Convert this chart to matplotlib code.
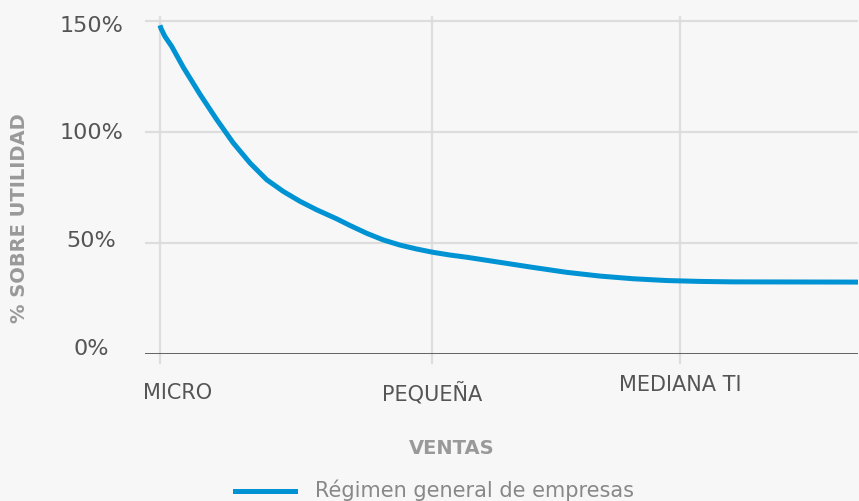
import matplotlib
matplotlib.use("Agg")
import matplotlib.pyplot as plt
import matplotlib.transforms as mtransforms

# data (x: 0 = MICRO, 1 = PEQUEÑA)
x_vals = [0.0, 0.004, 0.018, 0.043, 0.086, 0.147, 0.208, 0.269, 0.331, 0.392,
          0.453, 0.515, 0.576, 0.650, 0.699, 0.760, 0.821, 0.882, 0.944, 1.005,
          1.066, 1.128, 1.25, 1.372, 1.495, 1.618, 1.740, 1.863, 1.985, 2.108,
          2.569]
y_vals = [148, 146.5, 143.0, 138.5, 129.0, 116.9, 105.6, 95.0, 85.9, 78.4,
          73.1, 68.6, 64.8, 60.7, 57.7, 54.2, 51.2, 48.9, 47.1, 45.6,
          44.4, 43.4, 41.1, 38.8, 36.6, 34.9, 33.7, 32.9, 32.5, 32.3,
          32.2]
cat_pos = [0.0, 1.0, 1.912]
cat_labels = ["MICRO", "PEQUEÑA", "MEDIANA TI"]
y_ticks = [0, 50, 100, 150]
y_labels = ["0%", "50%", "100%", "150%"]
serie = "Régimen general de empresas"

plt.rcParams['font.family'] = ['DejaVu Sans']
bg = "#f7f7f7"
blue = "#0093d3"

fig = plt.figure(figsize=(8.59, 5.01), dpi=100, facecolor=bg)
W, H = 859, 501
ax = fig.add_axes([145 / W, 1 - 353.5 / H, (858 - 145) / W, (353.5 - 16.4) / H])
ax.set_facecolor(bg)

ax.plot(x_vals, y_vals, color=blue, lw=3.6, solid_capstyle="butt",
        solid_joinstyle="round", zorder=3)

ax.set_xlim(-0.055, 2.566)
ax.set_ylim(0, 152)

for y in y_ticks[1:]:
    ax.axhline(y, color="#dddddd", lw=1.6, zorder=1)
for x in cat_pos:
    ax.axvline(x, color="#dddddd", lw=1.6, zorder=1)
ax.axhline(0, color="#555555", lw=2, zorder=2)

for s in ax.spines.values():
    s.set_visible(False)
ax.set_yticks([])
ax.set_xticks(cat_pos)
ax.set_xticklabels([])
ax.tick_params(axis="x", length=7, width=1.6, color="#dddddd", direction="out")

# y labels, centred, baselines as in the reference
base_px = [355, 247, 139, 32]
for py, lab in zip(base_px, y_labels):
    fig.text(91 / W, 1 - py / H, lab, ha="center", va="baseline",
             fontsize=16, color="#555555")

# x category labels
trans_x = mtransforms.blended_transform_factory(ax.transData, fig.transFigure)
offs = [(0.066, 393), (0.0, 393), (0.0, 385)]
for x, lab, (dx, py) in zip(cat_pos, cat_labels, offs):
    ax.text(x + dx, 1 - py / H, lab, transform=trans_x, ha="center", va="center",
            fontsize=15, color="#555555", clip_on=False)

fig.text(20 / W, 1 - 218 / H, "% SOBRE UTILIDAD", rotation=90, ha="center",
         va="center", fontsize=14, fontweight="bold", color="#999999")
fig.text(452 / W, 1 - 449 / H, "VENTAS", ha="center", va="center",
         fontsize=14, fontweight="bold", color="#999999")

# legend
fig.lines.append(plt.Line2D([235 / W, 295 / W], [1 - 491 / H, 1 - 491 / H],
                            transform=fig.transFigure, color=blue, lw=3.6))
fig.text(315 / W, 1 - 490 / H, serie, ha="left", va="center",
         fontsize=15, color="#888888")

fig.savefig("out.png", dpi=100, facecolor=bg)
